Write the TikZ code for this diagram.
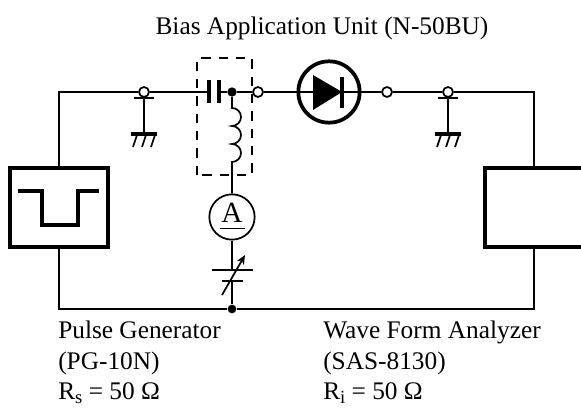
\documentclass[tikz,border=0pt]{standalone}
\usepackage{fontspec}
\setmainfont{Liberation Serif}
\usetikzlibrary{arrows, arrows.meta, decorations.pathmorphing, calc}
\newcommand{\lowsub}[1]{\raisebox{-3.6pt}{\fontsize{14}{14}\selectfont #1}}
\tikzset{
	wire/.style={line width=1.3pt},
	opencirc/.style={circle, draw, fill=white, line width=1.3pt, inner sep=0pt, minimum size=7.5pt},
	dotcirc/.style={circle, fill=black, inner sep=0pt, minimum size=7pt},
	thickbox/.style={draw, line width=2.8pt, inner sep=0pt},
	textlab/.style={anchor=base west, inner sep=0pt, font=\fontsize{19}{22}\selectfont},
}

\begin{document}
\begin{tikzpicture}[x=0.75pt, y=-0.75pt]
	\useasboundingbox (0,0) rectangle (581,409);
	\clip (0,0) rectangle (581,409);
	\node[textlab, anchor=base] (T) at (322,35) {Bias Application Unit (N-50BU)};
	% source and analyzer
	\node[thickbox, minimum width=73pt, minimum height=59pt] (PG) at (59,207.5) {};
	\node[thickbox, minimum width=73pt, minimum height=59pt] (WA) at (534,207.5) {};
	\draw[line width=2.8pt] (18,191) -- (42,191) -- (42,225) -- (78,225) -- (78,191) -- (99,191);
	% top line
	\coordinate (TL) at (59,92);
	\coordinate (TR) at (534,92);
	\coordinate (BL) at (59,309);
	\coordinate (BR) at (534,309);
	\coordinate (C1) at (209,92);
	\coordinate (C2) at (219,92);
	\node[circle, draw, line width=2.8pt, fill=white, minimum size=46pt, inner sep=0pt] (D) at (329,92) {};
	\node[opencirc] (P1) at (258,92) {};
	\node[opencirc] (P2) at (387,92) {};
	\node[opencirc] (G1) at (144,92) {};
	\node[opencirc] (G2) at (448,92) {};
	\node[dotcirc] (N1) at (232,92) {};
	\node[dotcirc, minimum size=6.5pt] (N2) at (232,309) {};
	\draw[wire] (PG) -- (TL) -- (G1) -- (C1);
	\draw[wire] (C2) -- (N1) -- (P1) -- (D) -- (P2) -- (G2) -- (TR) -- (WA);
	\draw[wire] (PG) -- (BL) -- (N2) -- (BR) -- (WA);
	\draw[wire] (D.west) -- (D.east);
	\draw[line width=3pt] (209,80) -- (209,103);
	\draw[line width=3pt] (219,80) -- (219,103);
	% diode
	\fill (313,75) -- (342,92) -- (313,110) -- cycle;
	\draw[line width=2.4pt] (342,77) -- (342,108);
	% bias box
	\draw[dashed, line width=1.3pt, dash pattern=on 7pt off 6pt] (197,175) -- (197,58) -- (252,58) -- (252,175) -- cycle;
	% inductor
	\node[circle, draw, wire, minimum size=34pt, inner sep=0pt] (A) at (232,217) {};
	\node[inner sep=0pt, font=\fontsize{22}{22}\selectfont] (AT) at (232,213) {A};
	\draw[line width=1.2pt] (220,228.5) -- (245,228.5);
	\draw[wire] (N1) -- (232,108)
		arc[start angle=90, end angle=-90, x radius=9, y radius=-9]
		arc[start angle=90, end angle=-90, x radius=9, y radius=-9]
		arc[start angle=90, end angle=-90, x radius=9, y radius=-9] -- (A);
	% variable capacitor
	\coordinate (V1) at (232,270);
	\coordinate (V2) at (232,281);
	\draw[wire] (A) -- (V1);
	\draw[wire] (V2) -- (N2);
	\draw[wire] (212,270) -- (253,270);
	\draw[wire] (222,281) -- (243,281);
	\draw[wire, -{Stealth[length=7pt, width=6pt]}] (222,295) -- (245,255);
	% grounds
	\foreach \g/\x in {G1/144, G2/448} {
		\draw[wire] (\g) -- (\x,134);
		\draw[wire] (\x-10,98) -- (\x+10,98);
		\draw[line width=2.4pt] (\x-13,134) -- (\x+13,134);
		\foreach \d in {-9,0,9}
			\draw[wire] (\x+\d+2,135) -- (\x+\d-2,147);
	}
	\node[textlab] (PG1) at (58,338) {Pulse Generator};
	\node[textlab] (PG2) at (58,369) {(PG-10N)};
	\node[textlab] (PG3) at (58,399) {R\lowsub{s} = 50 Ω};
	\node[textlab] (WA1) at (323,338) {Wave Form Analyzer};
	\node[textlab] (WA2) at (323,369) {(SAS-8130)};
	\node[textlab] (WA3) at (323,399) {R\lowsub{i} = 50 Ω};
\end{tikzpicture}
\end{document}
